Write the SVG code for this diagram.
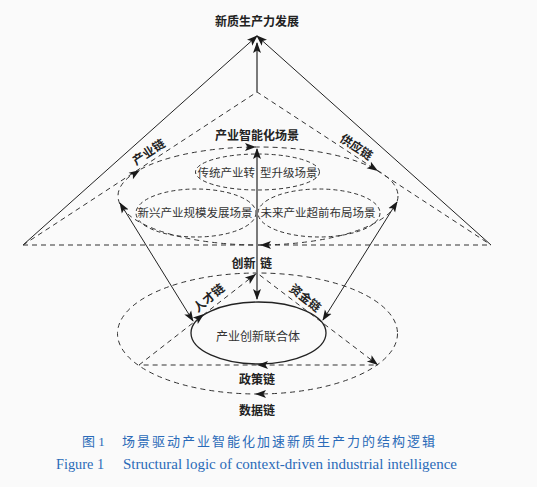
<svg xmlns="http://www.w3.org/2000/svg" width="537" height="487" viewBox="0 0 537 487">
<defs>
<style>
.bg{fill:#fafafa}
.solid{fill:none;stroke:#222;stroke-width:1}
.dash{fill:none;stroke:#333;stroke-width:1;stroke-dasharray:5 4}
.dashs{fill:none;stroke:#333;stroke-width:1;stroke-dasharray:4 3}
.gray{fill:none;stroke:#7a7a7a;stroke-width:2}
.core{fill:none;stroke:#222;stroke-width:1.3}
.ah{fill:#1a1a1a}
.t{font-family:"Noto Sans CJK SC","Noto Sans",sans-serif;fill:#222;text-anchor:middle;dominant-baseline:central}
.b{font-size:12px;font-weight:bold}
.s{font-size:11.5px;fill:#333}
.r{font-size:12px;fill:#333}
.cap{font-family:"Liberation Serif","Noto Sans CJK SC",serif;fill:#2a6ab8}
</style>
<marker id="arr" markerUnits="userSpaceOnUse" markerWidth="12" markerHeight="10" viewBox="0 0 12 10" refX="10" refY="5" orient="auto-start-reverse">
<path d="M0,1 L11,5 L0,9 L2.5,5 Z" fill="#1a1a1a"/>
</marker>
<path id="ahd" d="M0,0 L-11,-4 L-8.5,0 L-11,4 Z"/>
</defs>
<rect class="bg" x="0" y="0" width="537" height="487"/>

<g id="node-scene-big">
<ellipse class="dash" cx="258" cy="196" rx="140" ry="49"/>
<text class="t b" x="257" y="134">产业智能化场景</text>
</g>
<g id="node-traditional">
<ellipse class="dashs" cx="257.5" cy="172" rx="62" ry="18"/>
<text class="t s" x="255" y="172" style="text-anchor:end">传统产业转</text>
<text class="t s" x="260" y="172" style="text-anchor:start">型升级场景</text>
</g>
<g id="node-emerging">
<ellipse class="dashs" cx="196" cy="213" rx="60" ry="24"/>
<text class="t s" x="195" y="212">新兴产业规模发展场景</text>
</g>
<g id="node-future">
<ellipse class="dashs" cx="319" cy="213" rx="61" ry="24"/>
<text class="t s" x="318" y="212">未来产业超前布局场景</text>
</g>
<g id="node-data">
<ellipse class="dash" cx="257.5" cy="333.5" rx="140" ry="60.5"/>
</g>
<g id="node-union">
<ellipse class="core" cx="258.5" cy="333" rx="67.5" ry="31"/>
<text class="t r" x="258" y="335">产业创新联合体</text>
</g>
<g id="node-goal">
<text class="t b" x="257" y="20">新质生产力发展</text>
</g>

<g id="connectors">
<path class="solid" d="M23,245 L257,36" marker-end="url(#arr)"/>
<path class="solid" d="M491,245 L257,36" marker-end="url(#arr)"/>
<path class="dash" d="M23,245 L257,92 L491,245"/>
<path class="dash" d="M23,245 L491,245"/>
<path class="gray" d="M257,92 L257,43" marker-end="url(#arr)"/>
<path class="gray" d="M257,149 L257,299" marker-start="url(#arr)" marker-end="url(#arr)"/>
<path class="solid" d="M120,203 L193,321" marker-start="url(#arr)" marker-end="url(#arr)"/>
<path class="solid" d="M397,202 L323,320" marker-start="url(#arr)" marker-end="url(#arr)"/>
<path class="dash" d="M139,365 L257,273 L378,365 Z"/>
<use href="#ahd" class="ah" transform="translate(140,170) rotate(-33)"/>
<use href="#ahd" class="ah" transform="translate(378,171) rotate(33)"/>
<use href="#ahd" class="ah" transform="translate(256,147)"/>
<use href="#ahd" class="ah" transform="translate(260,245) rotate(180)"/>
<use href="#ahd" class="ah" transform="translate(256,274) rotate(-38)"/>
<use href="#ahd" class="ah" transform="translate(204,314) rotate(-38)"/>
<use href="#ahd" class="ah" transform="translate(378,365) rotate(37)"/>
<use href="#ahd" class="ah" transform="translate(257,365) rotate(180)"/>
<use href="#ahd" class="ah" transform="translate(255,394) rotate(180)"/>
<text class="t b" transform="translate(148,151) rotate(-33)">产业链</text>
<text class="t b" transform="translate(357,146) rotate(33)">供应链</text>
<text class="t b" x="243.5" y="262">创新</text>
<text class="t b" x="266" y="262">链</text>
<text class="t b" transform="translate(208,297) rotate(-40)">人才链</text>
<text class="t b" transform="translate(306,297) rotate(39)">资金链</text>
<text class="t b" x="257" y="378">政策链</text>
<text class="t b" x="257" y="409">数据链</text>
</g>

<g id="caption">
<text class="cap" x="82" y="446" font-size="13">图 1</text>
<text class="cap" x="122" y="446" font-size="13" letter-spacing="2">场景驱动产业智能化加速新质生产力的结构逻辑</text>
<text class="cap" x="56" y="469" font-size="14.3">Figure 1</text>
<text class="cap" x="123" y="469" font-size="14.3" textLength="334" lengthAdjust="spacingAndGlyphs">Structural logic of context-driven industrial intelligence</text>
</g>
</svg>
